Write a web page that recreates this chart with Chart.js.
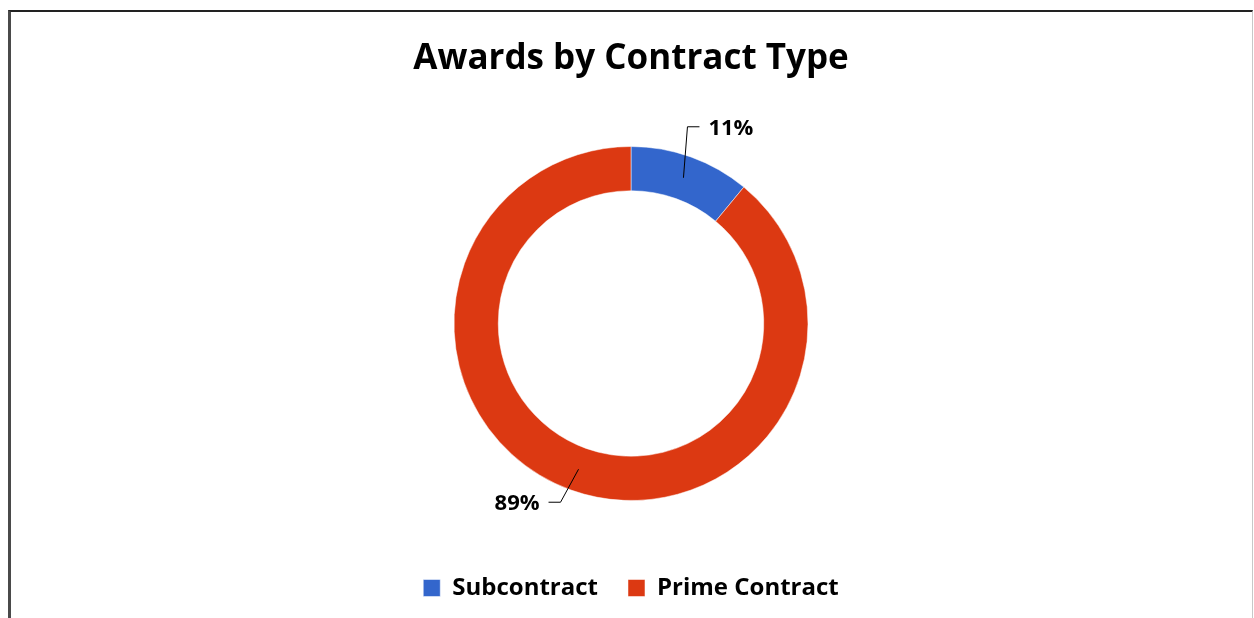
<!DOCTYPE html>
<html>
<head>
<meta charset="utf-8">
<script src="https://cdn.jsdelivr.net/npm/chart.js@4/dist/chart.umd.min.js"></script>
<style>
  html, body { margin: 0; padding: 0; background: #fff; }
  #wrap { position: relative; width: 1254px; height: 618px; overflow: hidden; }
  #frame { position: absolute; left: 8px; top: 10px; width: 1245px; height: 620px;
           border-top: 2px solid #222; border-left: 3px solid #4a4a4a; border-right: 1px solid #c8c8c8; box-sizing: border-box; }
  canvas { position: absolute; left: 0; top: 0; }
</style>
</head>
<body>
<div id="wrap">
  <canvas id="c" width="1254" height="618"></canvas>
  <div id="frame"></div>
</div>
<script>
const categories = ["Subcontract", "Prime Contract"];
const shares = [11, 89];
const seriesColors = ["#3366CC", "#DC3912"];
const chartTitle = "Awards by Contract Type";

const FONT = "'Open Sans', Lato, 'DejaVu Sans', sans-serif";

const leaderPlugin = {
  id: 'leaderLabels',
  afterDatasetsDraw(chart, args, opts) {
    const ctx = chart.ctx;
    const meta = chart.getDatasetMeta(0);
    const total = shares.reduce((a, b) => a + b, 0);
    meta.data.forEach((arc, i) => {
      const p = arc.getProps(['x', 'y', 'startAngle', 'endAngle', 'innerRadius', 'outerRadius'], true);
      const mid = (p.startAngle + p.endAngle) / 2;
      const rMid = (p.innerRadius + p.outerRadius) / 2;
      const sx = p.x + Math.cos(mid) * rMid;
      const sy = p.y + Math.sin(mid) * rMid;
      const off = opts.elbows[i];
      const ex = sx + off[0];
      const ey = sy + off[1];
      const dir = Math.cos(mid) >= 0 ? 1 : -1;
      const hx = ex + dir * opts.arm;
      ctx.save();
      ctx.strokeStyle = '#000';
      ctx.lineWidth = 1;
      ctx.beginPath();
      ctx.moveTo(sx, sy);
      ctx.lineTo(ex, ey);
      ctx.lineTo(hx, ey);
      ctx.stroke();
      ctx.fillStyle = '#000';
      ctx.font = 'bold 22px ' + FONT;
      ctx.textBaseline = 'middle';
      ctx.textAlign = dir > 0 ? 'left' : 'right';
      const pct = Math.round(shares[i] / total * 100) + '%';
      ctx.fillText(pct, hx + dir * opts.gap, ey + 2);
      ctx.restore();
    });
  }
};

new Chart(document.getElementById('c'), {
  type: 'doughnut',
  data: {
    labels: categories,
    datasets: [{
      data: shares,
      backgroundColor: seriesColors,
      borderColor: '#ffffff',
      borderWidth: 0.5,
      radius: 177,
      cutout: '75%'
    }]
  },
  options: {
    responsive: false,
    animation: false,
    layout: { padding: { top: 38, bottom: 8, left: 8, right: 0 } },
    plugins: {
      title: {
        display: true,
        text: chartTitle,
        color: '#000',
        font: { family: FONT, size: 35, weight: 'bold' },
        padding: { top: 0, bottom: 21 }
      },
      legend: {
        position: 'bottom',
        labels: {
          color: '#000',
          boxWidth: 17,
          boxHeight: 17,
          padding: 30,
          font: { family: FONT, size: 24, weight: 'bold' }
        }
      },
      tooltip: { enabled: false },
      leaderLabels: { elbows: [[4, -51], [-18, 33]], arm: 12, gap: 9 }
    }
  },
  plugins: [leaderPlugin]
});
</script>
</body>
</html>
